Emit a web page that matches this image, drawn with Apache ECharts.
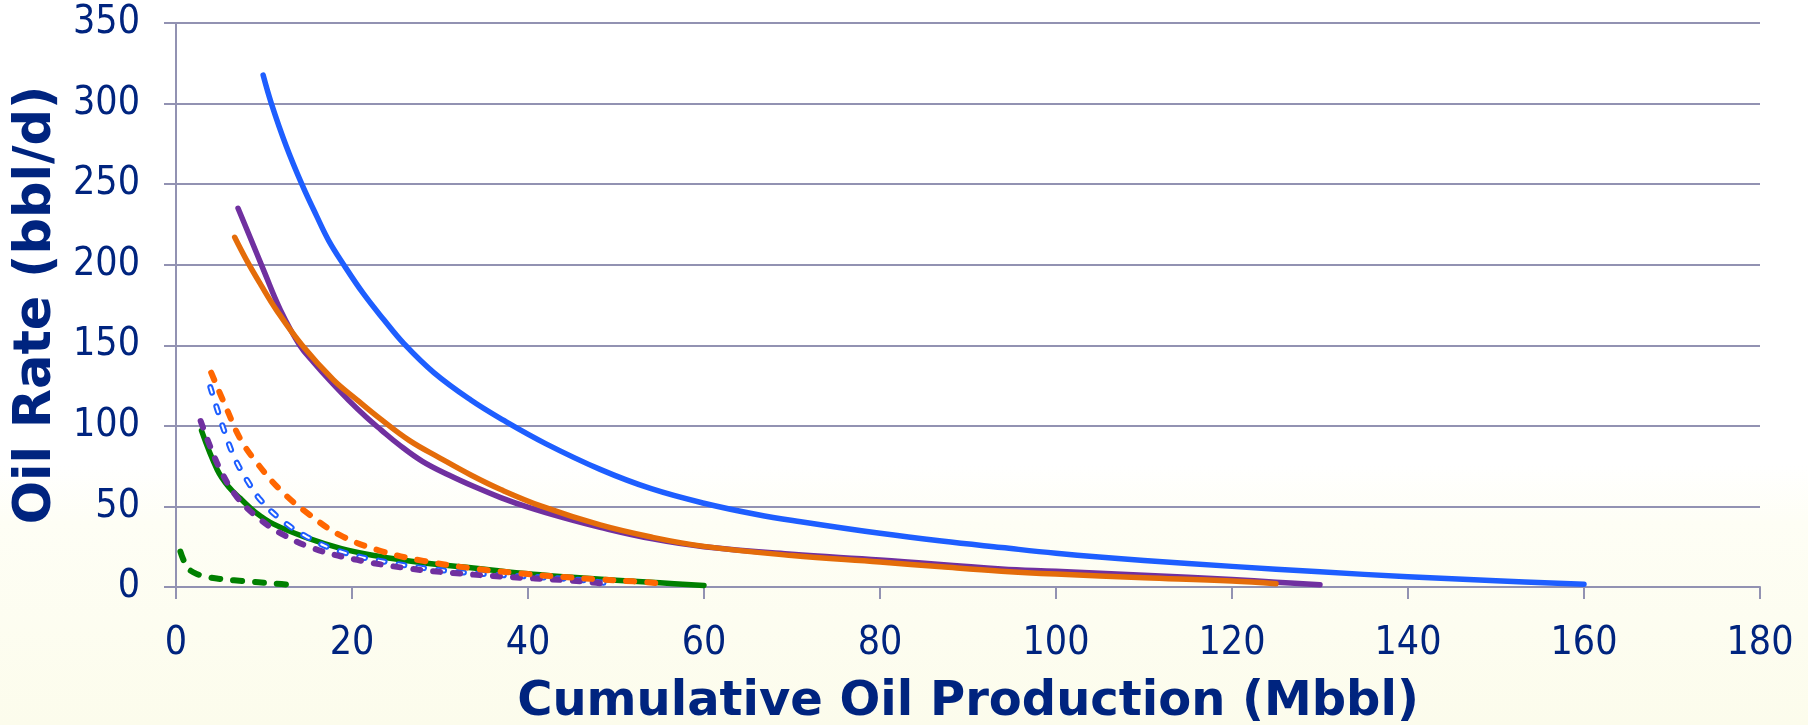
<!DOCTYPE html>
<html>
<head>
<meta charset="utf-8">
<script src="https://cdn.jsdelivr.net/npm/echarts@6/dist/echarts.min.js"></script>
<style>
  html, body { margin: 0; padding: 0; }
  body {
    width: 1808px; height: 725px;
    background: linear-gradient(to bottom, #ffffff 0%, #ffffff 64%, #fefef5 72%, #fcfcec 100%);
  }
  #chart { width: 1808px; height: 725px; }
</style>
</head>
<body>
<div id="chart"></div>
<script>
// Tick labels
const xTicks = [0, 20, 40, 60, 80, 100, 120, 140, 160, 180];
const yTicks = [0, 50, 100, 150, 200, 250, 300, 350];

// Decline curves: [cumulative oil (Mbbl), oil rate (bbl/d)]
const blueSolid = [[9.9,317.7],[10.84,300],[12.5,274],[14.3,250],[16,230],[17.35,215],[19.06,200],[21.3,182],[23.6,166],[25.9,151],[29.3,133],[33.5,116],[37.2,103.5],[42,89],[48.2,73],[54,61],[60,52],[66,45],[71,40.5],[80,33.3],[87,28.5],[93.8,24.5],[100,21],[110,16.5],[120,12.8],[130,9.4],[140,6.4],[150,3.9],[160,1.7]];
const purpleSolid = [[7.05,235],[8.5,216],[10,196],[11.86,172],[14.06,150],[15.7,139],[17.5,128],[19.6,116],[21.7,105],[23.3,97.5],[25.3,88.5],[28,78],[31,69.5],[34,62],[36.9,55.5],[40,49.5],[44,43],[48.2,37],[54,30],[60,25],[70,20.3],[80,16.8],[93.8,11.2],[100,9.8],[110,7.3],[120,4.6],[125,3],[130,1.4]];
const orangeSolid = [[6.67,217],[8,203],[9.7,187],[11.4,172],[14.33,150],[17.9,128.5],[20.6,116],[23.3,104],[26.5,91],[30,80],[33.5,69.5],[36.9,60.5],[41.6,50],[48.2,38.5],[54,31],[60,25.2],[70,19.5],[80,15.5],[87,12.5],[93.8,9.8],[100,8],[110,5.8],[120,3.7],[125,2]];
const orangeDash = [[4,133],[5.8,110],[7.3,92],[9.2,77],[11.9,60],[14.9,46],[18.7,32],[23.2,22.5],[28.1,16.2],[33.8,11.5],[40,8],[44,6.2],[48,4.8],[52,3.5],[55,2.3]];
const blueDash = [[3.9,124],[4.7,110],[5.6,95],[6.75,79],[8.1,66],[9.6,54],[11.9,42],[14.9,31],[18.7,22],[24.4,15],[30,10.5],[35.7,7.8],[40,6.5],[44,5.2],[47,3.8],[49.7,1.7]];
const purpleDash = [[2.8,103],[3.9,87],[5.2,71],[6.9,56],[9.2,43.5],[11.9,33.3],[15.6,24],[20.6,16.8],[26.3,11.6],[31.9,8.5],[37.6,6.3],[44,4.3],[47,3],[49.3,1.7]];
const greenSolid = [[2.9,97],[4.7,72.6],[6,62],[7.3,55],[9,46.5],[11.1,39],[14.9,30.5],[18.7,24],[22.5,19.5],[26.3,16.3],[30,13.8],[33.8,11.8],[37.5,9.5],[41,7.8],[45,6],[50,4.2],[55,2.6],[60,1]];
const greenDash = [[0.5,22],[1,15],[1.6,10.4],[2.5,7.8],[3.5,6.3],[5,5],[6.6,4.2],[8.5,3.3],[10.3,2.5],[12,1.8],[13.9,1.1]];

const TEXT = '#00247f';
const GRID = '#9292b2';
const FONT = 'DejaVu Sans';
const LABEL_FONT = '"DejaVu Sans Condensed", "DejaVu Sans"';

function curve(data, color, width, dash, z) {
  return {
    type: 'line',
    data: data,
    smooth: 0.4,
    showSymbol: false,
    symbol: 'none',
    z: z,
    lineStyle: { color: color, width: width, type: dash || 'solid', cap: 'round', join: 'round' },
    silent: true
  };
}

const chart = echarts.init(document.getElementById('chart'), null, { renderer: 'canvas' });
chart.setOption({
  animation: false,
  backgroundColor: 'transparent',
  grid: { left: 176, right: 48, top: 23, bottom: 138, containLabel: false, outerBoundsMode: 'none' },
  xAxis: {
    type: 'value',
    min: xTicks[0], max: xTicks[xTicks.length - 1], interval: 20,
    name: 'Cumulative Oil Production (Mbbl)',
    nameLocation: 'middle',
    nameGap: 92,
    nameTextStyle: { color: TEXT, fontFamily: FONT, fontWeight: 'bold', fontSize: 48, lineHeight: 48 },
    axisLine: { show: true, lineStyle: { color: GRID, width: 2 } },
    axisTick: { show: true, length: 12, lineStyle: { color: GRID, width: 2 } },
    splitLine: { show: false },
    axisLabel: { color: TEXT, fontFamily: LABEL_FONT, fontSize: 39, margin: 37 }
  },
  yAxis: {
    type: 'value',
    min: yTicks[0], max: yTicks[yTicks.length - 1], interval: 50,
    name: 'Oil Rate (bbl/d)',
    nameLocation: 'middle',
    nameGap: 104,
    nameRotate: 90,
    nameTextStyle: { color: TEXT, fontFamily: FONT, fontWeight: 'bold', fontSize: 51, lineHeight: 51 },
    axisLine: { show: true, lineStyle: { color: GRID, width: 2 } },
    axisTick: { show: true, length: 12, lineStyle: { color: GRID, width: 2 } },
    splitLine: { show: true, lineStyle: { color: GRID, width: 2 } },
    axisLabel: { color: TEXT, fontFamily: LABEL_FONT, fontSize: 39, margin: 36 }
  },
  series: [
    curve(greenDash, '#008000', 6, [9, 13], 2),
    curve(greenSolid, '#008000', 5.5, null, 3),
    curve(blueSolid, '#1e5eff', 5.5, null, 4),
    curve(purpleSolid, '#7030a0', 5.5, null, 5),
    curve(orangeSolid, '#e46c0a', 5.5, null, 6),
    curve(blueDash, '#1e5eff', 6, [6, 14], 7),
    curve(blueDash, '#ffffff', 2, [6, 14], 8),
    curve(purpleDash, '#7030a0', 6, [7, 13], 9),
    curve(orangeDash, '#ff6600', 6, [8, 13], 10)
  ]
});
</script>
</body>
</html>
